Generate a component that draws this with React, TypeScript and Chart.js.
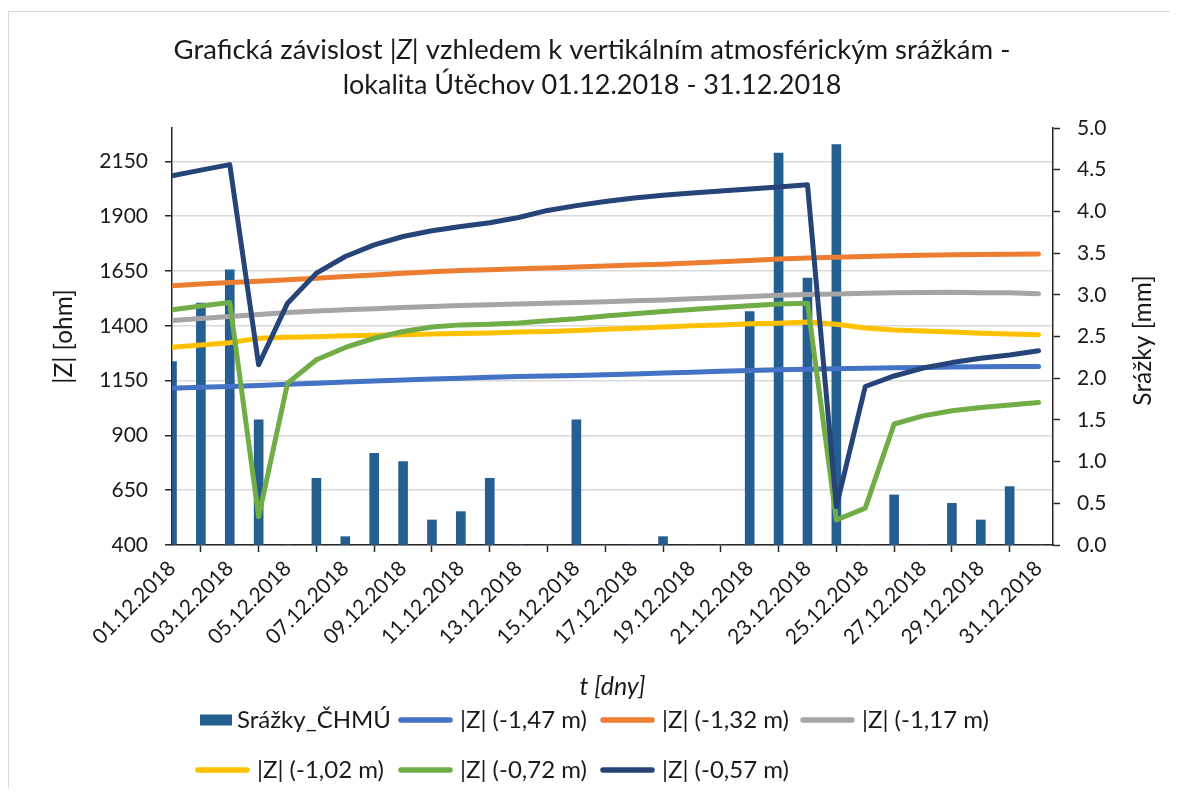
import React, { useEffect, useRef } from "react";
import { Chart, registerables } from "chart.js";

Chart.register(...registerables);

// ---------- data ----------
const dates = [
  "01.12.2018", "02.12.2018", "03.12.2018", "04.12.2018", "05.12.2018", "06.12.2018",
  "07.12.2018", "08.12.2018", "09.12.2018", "10.12.2018", "11.12.2018", "12.12.2018",
  "13.12.2018", "14.12.2018", "15.12.2018", "16.12.2018", "17.12.2018", "18.12.2018",
  "19.12.2018", "20.12.2018", "21.12.2018", "22.12.2018", "23.12.2018", "24.12.2018",
  "25.12.2018", "26.12.2018", "27.12.2018", "28.12.2018", "29.12.2018", "30.12.2018",
  "31.12.2018",
];
const xTickDays = [1, 3, 5, 7, 9, 11, 13, 15, 17, 19, 21, 23, 25, 27, 29, 31];
const leftTicks = [400, 650, 900, 1150, 1400, 1650, 1900, 2150];

const srazky = [2.2, 2.9, 3.3, 1.5, 0, 0.8, 0.1, 1.1, 1.0, 0.3, 0.4, 0.8, 0, 0, 1.5, 0, 0, 0.1, 0, 0, 2.8, 4.7, 3.2, 4.8, 0, 0.6, 0, 0.5, 0.3, 0.7, 0];

const z147 = [1115, 1119, 1123, 1128, 1133, 1138, 1143, 1148, 1153, 1157, 1161, 1165, 1168, 1171, 1173, 1177, 1180, 1184, 1188, 1192, 1196, 1199, 1202, 1204, 1206, 1208, 1210, 1212, 1213, 1214, 1214];
const z132 = [1582, 1590, 1597, 1603, 1610, 1617, 1625, 1632, 1640, 1646, 1652, 1656, 1660, 1664, 1668, 1672, 1677, 1681, 1686, 1692, 1698, 1704, 1709, 1713, 1716, 1719, 1722, 1724, 1725, 1726, 1727];
const z117 = [1424, 1433, 1442, 1451, 1460, 1467, 1473, 1478, 1483, 1488, 1492, 1496, 1499, 1503, 1506, 1510, 1514, 1518, 1523, 1528, 1534, 1539, 1543, 1545, 1548, 1550, 1552, 1553, 1551, 1550, 1546];
const z102 = [1302, 1312, 1323, 1343, 1348, 1350, 1354, 1357, 1359, 1362, 1365, 1367, 1371, 1374, 1378, 1384, 1389, 1394, 1400, 1404, 1409, 1412, 1417, 1407, 1390, 1381, 1376, 1371, 1366, 1362, 1359];
const z072 = [1473, 1490, 1506, 529, 1138, 1245, 1301, 1343, 1374, 1394, 1404, 1407, 1413, 1423, 1432, 1444, 1455, 1465, 1474, 1483, 1491, 1499, 1503, 514, 568, 952, 989, 1012, 1027, 1039, 1050];
const z057 = [2084, 2110, 2135, 1222, 1503, 1640, 1716, 1769, 1807, 1833, 1853, 1870, 1894, 1926, 1948, 1967, 1983, 1995, 2005, 2015, 2024, 2033, 2043, 575, 1123, 1171, 1207, 1232, 1252, 1267, 1286];

const titleLine1 = ["Grafická závislost |", "Z", "| vzhledem k vertikálním atmosférickým srážkám -"];
const titleLine2 = "lokalita Útěchov 01.12.2018 - 31.12.2018";
const rightTitle = "Srážky [mm]";
const leftTitle = "|Z| [ohm]";
const xTitle = "t [dny]";

// ---------- style ----------
const FONT = "Lato";
const TEXT = "#1a1a1a";
const AXIS = "#262626";
const GRID = "#d9d9d9";

// legend slots (canvas coords), in dataset order
const legendSlots = [
  { y: 708, x: 191, w: 32, tx: 228 },
  { y: 708, x: 389, w: 55, tx: 451 },
  { y: 708, x: 591, w: 55, tx: 653 },
  { y: 708, x: 791, w: 55, tx: 853 },
  { y: 758, x: 186, w: 55, tx: 248 },
  { y: 758, x: 389, w: 55, tx: 451 },
  { y: 758, x: 591, w: 55, tx: 653 },
];

const toXY = (arr: number[]) => arr.map((v, i) => ({ x: i + 1, y: v }));

const lineDs = (label: string, data: number[], color: string, order: number) => ({
  type: "line" as const,
  label,
  data: toXY(data),
  yAxisID: "y",
  borderColor: color,
  backgroundColor: color,
  borderWidth: 5,
  pointRadius: 0,
  pointHoverRadius: 0,
  tension: 0,
  borderCapStyle: "round" as const,
  borderJoinStyle: "round" as const,
  order,
});

const overlayPlugin = {
  id: "overlayTexts",
  afterDraw(chart: any) {
    const ctx = chart.ctx as CanvasRenderingContext2D;
    ctx.save();
    ctx.fillStyle = TEXT;
    ctx.textBaseline = "middle";
    // title
    const cx = 583;
    const fontFor = (it: boolean, size: number) => `${it ? "italic " : ""}${size}px ${FONT}`;
    let total = 0;
    titleLine1.forEach((t, i) => {
      ctx.font = fontFor(i === 1, 27.5);
      total += ctx.measureText(t).width;
    });
    let x = cx - total / 2;
    ctx.textAlign = "left";
    titleLine1.forEach((t, i) => {
      ctx.font = fontFor(i === 1, 27.5);
      ctx.fillText(t, x, 38);
      x += ctx.measureText(t).width;
    });
    ctx.font = fontFor(false, 27);
    ctx.textAlign = "center";
    ctx.fillText(titleLine2, cx, 73);

    // legend
    chart.data.datasets.forEach((ds: any, i: number) => {
      const s = legendSlots[i];
      if (!s) return;
      if (ds.type === "bar") {
        ctx.fillStyle = ds.backgroundColor;
        ctx.fillRect(s.x, s.y - 5.5, s.w, 11);
      } else {
        ctx.strokeStyle = ds.borderColor;
        ctx.lineWidth = 5.5;
        ctx.lineCap = "round";
        ctx.beginPath();
        ctx.moveTo(s.x + 3, s.y);
        ctx.lineTo(s.x + s.w - 3, s.y);
        ctx.stroke();
      }
      ctx.fillStyle = TEXT;
      ctx.font = `24px ${FONT}`;
      ctx.textAlign = "left";
      ctx.fillText(ds.label, s.tx, s.y);
    });

    // right axis title
    const ca = chart.chartArea;
    ctx.translate(1134, (ca.top + ca.bottom) / 2 + 4);
    ctx.rotate(-Math.PI / 2);
    ctx.font = `24.5px ${FONT}`;
    ctx.textAlign = "center";
    ctx.fillStyle = TEXT;
    ctx.fillText(rightTitle, 0, 0);
    ctx.restore();
  },
};

export default function App() {
  const ref = useRef<HTMLCanvasElement | null>(null);

  useEffect(() => {
    if (!ref.current) return;
    const chart = new Chart(ref.current, {
      type: "line",
      data: {
        datasets: [
          {
            type: "bar",
            label: "Srážky_ČHMÚ",
            data: toXY(srazky),
            yAxisID: "y1",
            backgroundColor: "#255E91",
            borderWidth: 0,
            barThickness: 9,
            order: 7,
          } as any,
          lineDs("|Z| (-1,47 m)", z147, "#4472C4", 6),
          lineDs("|Z| (-1,32 m)", z132, "#ED7D31", 5),
          lineDs("|Z| (-1,17 m)", z117, "#A5A5A5", 4),
          lineDs("|Z| (-1,02 m)", z102, "#FFC000", 3),
          lineDs("|Z| (-0,72 m)", z072, "#70AD47", 2),
          lineDs("|Z| (-0,57 m)", z057, "#264478", 1),
        ],
      },
      options: {
        responsive: false,
        animation: false,
        layout: { padding: { top: 116, left: 0, right: 0, bottom: 110 } },
        plugins: {
          title: { display: false },
          tooltip: { enabled: false },
          legend: { display: false },
        },
        scales: {
          x: {
            type: "linear",
            min: 1,
            max: 31.5,
            offset: false,
            afterBuildTicks: (s: any) => {
              s.ticks = xTickDays.map((v) => ({ value: v }));
            },
            afterFit: (s: any) => {
              s.height = 136;
            },
            ticks: {
              autoSkip: false,
              minRotation: 45,
              maxRotation: 45,
              padding: 4,
              color: TEXT,
              font: { family: FONT, size: 21 },
              callback: (v: any) => dates[Math.round(Number(v)) - 1],
            },
            grid: {
              display: true,
              drawOnChartArea: false,
              drawTicks: true,
              tickLength: 7,
              tickColor: AXIS,
              tickWidth: 1.5,
            },
            border: { display: true, color: AXIS, width: 1.5 },
            title: {
              display: true,
              text: xTitle,
              color: TEXT,
              font: { family: FONT, size: 25, style: "italic" },
              padding: { top: 0, bottom: -21 },
            },
          },
          y: {
            type: "linear",
            position: "left",
            min: 400,
            max: 2302,
            afterBuildTicks: (s: any) => {
              s.ticks = leftTicks.map((v) => ({ value: v }));
            },
            afterFit: (s: any) => {
              s.width = 163;
            },
            ticks: {
              padding: 17,
              color: TEXT,
              font: { family: FONT, size: 21 },
              callback: (v: any) => String(v),
            },
            grid: { color: GRID, lineWidth: 1.5, tickLength: 7, tickColor: AXIS, tickWidth: 1.5 },
            border: { color: AXIS, width: 1.5 },
            title: {
              display: true,
              text: leftTitle,
              color: TEXT,
              font: { family: FONT, size: 24.5 },
              padding: { top: 40, bottom: 0 },
            },
          },
          y1: {
            type: "linear",
            position: "right",
            min: 0,
            max: 5,
            afterFit: (s: any) => {
              s.width = 117;
            },
            ticks: {
              stepSize: 0.5,
              padding: 17,
              color: TEXT,
              font: { family: FONT, size: 21 },
              callback: (v: any) => Number(v).toFixed(1),
            },
            grid: { drawOnChartArea: false, tickLength: 7, tickColor: AXIS, tickWidth: 1.5 },
            border: { color: AXIS, width: 1.5 },
          },
        },
      } as any,
      plugins: [overlayPlugin],
    });
    return () => chart.destroy();
  }, []);

  return (
    <div
      style={{
        position: "relative",
        top: 3,
        width: 1162,
        height: 780,
        borderTop: "1px solid #d9d9d9",
        borderLeft: "1px solid #d9d9d9",
        boxSizing: "border-box",
      }}
    >
      <canvas ref={ref} width={1161} height={779} style={{ display: "block" }} />
    </div>
  );
}
